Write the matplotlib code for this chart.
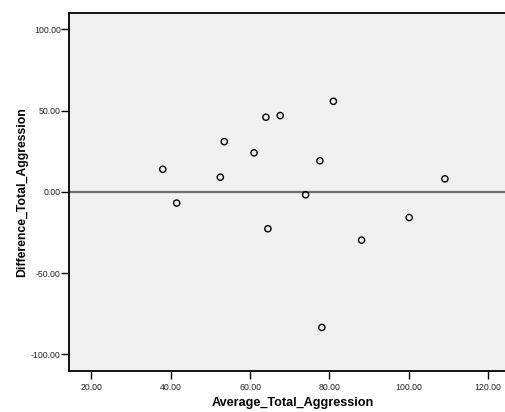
import matplotlib
matplotlib.use("Agg")
import matplotlib.pyplot as plt
from matplotlib.ticker import FuncFormatter, FixedLocator

# Bland-Altman style data: mean of two measures vs. their difference
average_total_aggression = [38.0, 41.5, 52.5, 53.5, 61.0, 64.0, 67.6, 64.5,
                            74.0, 77.6, 81.0, 109.1, 100.1, 88.1, 78.1]
difference_total_aggression = [13.9, -6.9, 9.0, 30.9, 24.0, 45.9, 46.9, -22.7,
                               -1.8, 19.1, 55.7, 8.0, -15.8, -29.7, -83.4]

x_ticks = [20, 40, 60, 80, 100, 120]
y_ticks = [-100, -50, 0, 50, 100]
reference_line = 0.0

plt.rcParams['font.family'] = ['Liberation Sans', 'DejaVu Sans']

fig = plt.figure(figsize=(5.06, 4.12), dpi=100)
ax = fig.add_axes([69 / 506, 41 / 412, 437 / 506, 358.3 / 412])
ax.set_facecolor('#f0f0f0')

ax.axhline(reference_line, color='#6e6e6e', linewidth=1.6, zorder=1)
ax.scatter(average_total_aggression, difference_total_aggression,
           s=20, facecolors='none', edgecolors='black', linewidths=1.0, zorder=2)

ax.set_xlim(14.37, 124.5)
ax.set_ylim(-110.2, 110.2)
ax.xaxis.set_major_locator(FixedLocator(x_ticks))
ax.yaxis.set_major_locator(FixedLocator(y_ticks))
fmt = FuncFormatter(lambda v, _: f"{v:.2f}")
ax.xaxis.set_major_formatter(fmt)
ax.yaxis.set_major_formatter(fmt)
ax.tick_params(axis='both', direction='out', length=5.5, width=1.0,
               labelsize=6.3, colors='black', labelcolor='#222222')
ax.tick_params(axis='y', pad=0.5)
ax.tick_params(axis='x', pad=3)

for side in ('left', 'bottom', 'top'):
    ax.spines[side].set_linewidth(1.3)
    ax.spines[side].set_color('black')
ax.spines['right'].set_visible(False)

ax.set_xlabel('Average_Total_Aggression', fontsize=9.1, fontweight='bold')
ax.set_ylabel('Difference_Total_Aggression', fontsize=8.8, fontweight='bold')
ax.xaxis.label.set_verticalalignment('center')
ax.yaxis.label.set_verticalalignment('center')
ax.xaxis.set_label_coords(0.512, -0.0893)
ax.yaxis.set_label_coords(-0.108, 0.5)

fig.savefig('out.png', dpi=100, facecolor='white')
